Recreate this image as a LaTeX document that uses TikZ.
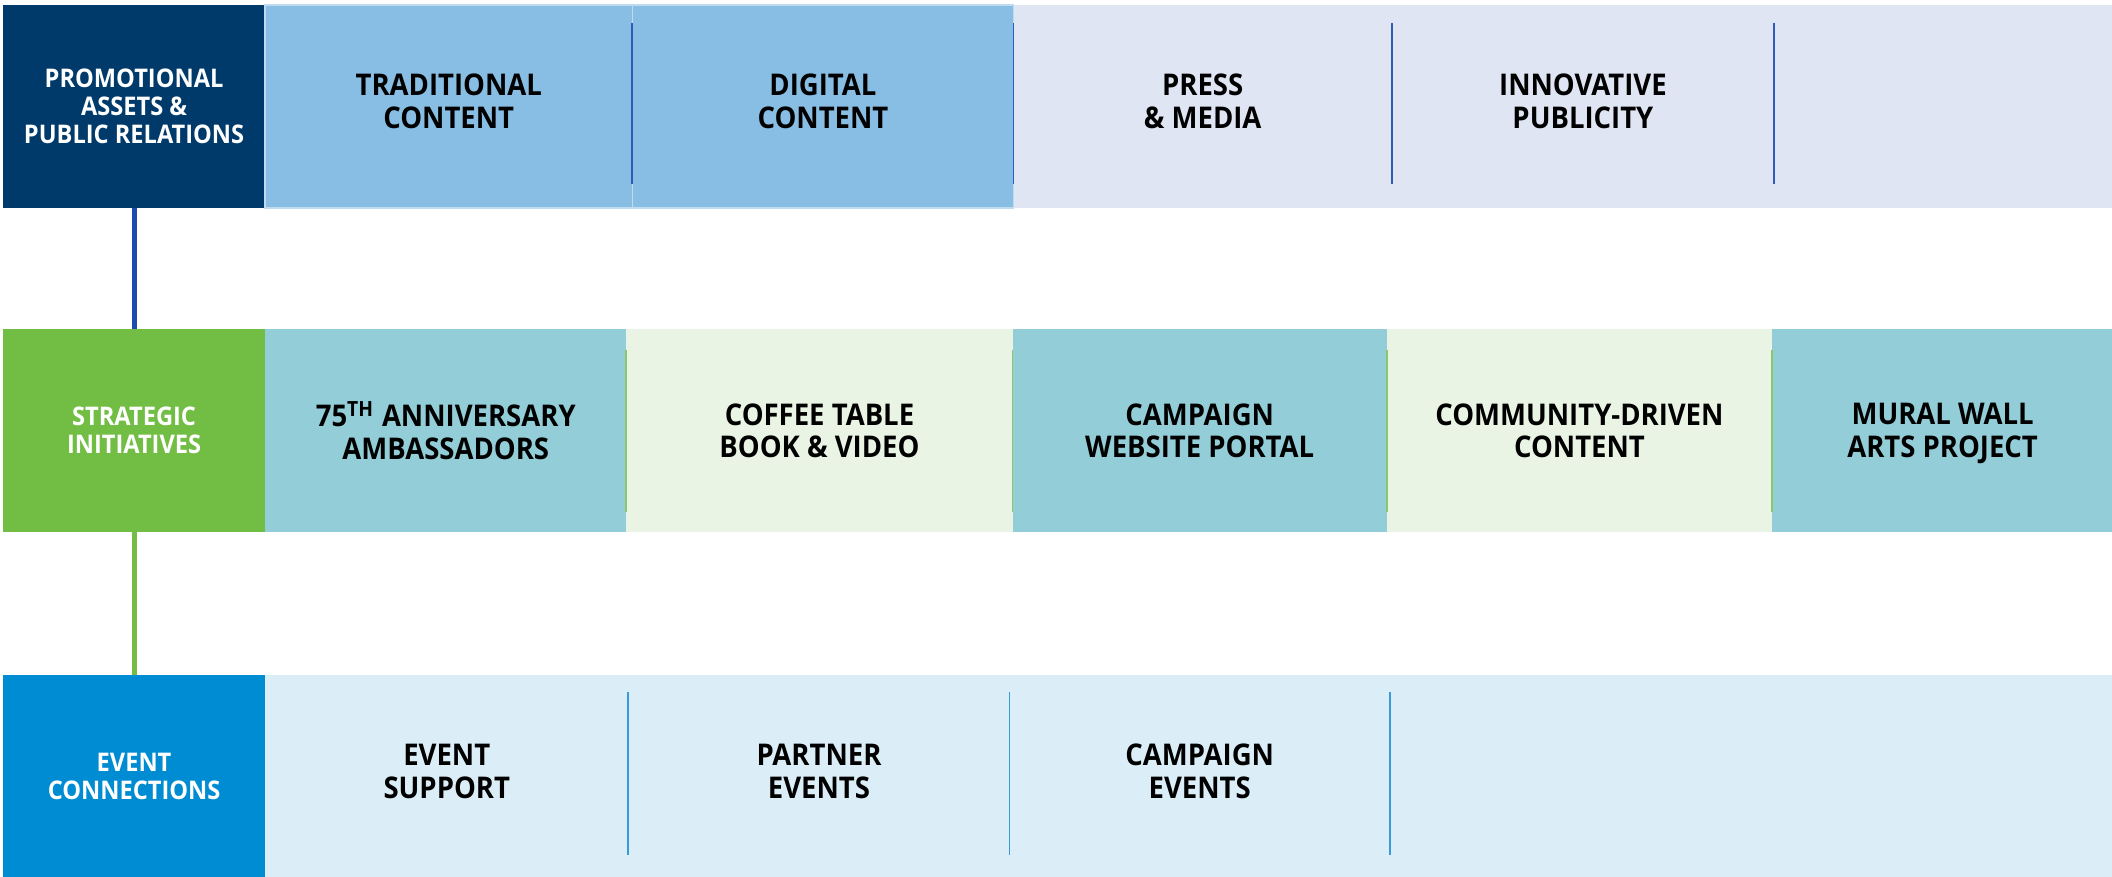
\documentclass[tikz,border=0pt]{standalone}
\usepackage{fontspec}
\setmainfont{Open Sans}[FakeStretch=0.92]
\usetikzlibrary{positioning}
\definecolor{navy}{HTML}{003A6B}
\definecolor{skyblue}{HTML}{88BEE3}
\definecolor{paleblue}{HTML}{DFE5F2}
\definecolor{leaf}{HTML}{72BE44}
\definecolor{teal}{HTML}{93CED8}
\definecolor{palegreen}{HTML}{EAF4E4}
\definecolor{ocean}{HTML}{008CD2}
\definecolor{iceblue}{HTML}{DBEEF7}
\definecolor{linkblue}{HTML}{1E4BB0}
\definecolor{sepblue}{HTML}{2E5CB8}
\definecolor{sepgreen}{HTML}{8CC56A}
\definecolor{sepsky}{HTML}{3A9AD9}

\begin{document}
\begin{tikzpicture}[x=0.01cm,y=-0.01cm,
    head/.style={anchor=north west,inner sep=0pt,outer sep=0pt,minimum width=2.62cm,minimum height=2.03cm,
      align=center,text=white,font=\bfseries\fontsize{7.3}{8}\selectfont},
    cell/.style={inner sep=0pt,outer sep=0pt,minimum height=2.03cm,align=center,
      font=\bfseries\fontsize{8.5}{9.2}\selectfont},
    sep/.style={line width=0.5pt},
    link/.style={line width=1.4pt}]

  \useasboundingbox (0,0) rectangle (2112,877);

  \node [head,fill=navy] (pa) at (3,5) {PROMOTIONAL\\ASSETS \&\\PUBLIC RELATIONS};
  \node [cell,fill=skyblue,draw=skyblue!55!white,minimum width=3.67cm,right=0pt of pa] (tc) {TRADITIONAL\\CONTENT\\[-6.2pt]};
  \node [cell,fill=skyblue,draw=skyblue!55!white,minimum width=3.81cm,right=0pt of tc] (dc) {DIGITAL\\CONTENT\\[-6.2pt]};
  \node [cell,fill=paleblue,minimum width=3.78cm,right=0pt of dc] (pm) {PRESS\\\& MEDIA\\[-6.2pt]};
  \node [cell,fill=paleblue,minimum width=3.82cm,right=0pt of pm] (ip) {INNOVATIVE\\PUBLICITY\\[-6.2pt]};
  \node [cell,fill=paleblue,minimum width=3.39cm,right=0pt of ip] (ep) {};

  \node [head,fill=leaf] (si) at (3,329) {STRATEGIC\\INITIATIVES};
  \node [cell,fill=teal,minimum width=3.61cm,right=0pt of si] (aa) {75\textsuperscript{TH} ANNIVERSARY\\AMBASSADORS};
  \node [cell,fill=palegreen,minimum width=3.86cm,right=0pt of aa] (cb) {COFFEE TABLE\\BOOK \& VIDEO};
  \node [cell,fill=teal,minimum width=3.74cm,right=0pt of cb] (cw) {CAMPAIGN\\WEBSITE PORTAL};
  \node [cell,fill=palegreen,minimum width=3.85cm,right=0pt of cw] (cd) {COMMUNITY-DRIVEN\\CONTENT};
  \node [cell,fill=teal,minimum width=3.41cm,right=0pt of cd] (mw) {MURAL WALL\\ARTS PRO\smash{J}ECT};

  \node [head,fill=ocean] (ec) at (3,675) {EVENT\\CONNECTIONS};
  \node [cell,fill=iceblue,minimum width=3.63cm,right=0pt of ec] (es) {EVENT\\SUPPORT\\[-6.2pt]};
  \node [cell,fill=iceblue,minimum width=3.81cm,right=0pt of es] (pe) {PARTNER\\EVENTS\\[-6.2pt]};
  \node [cell,fill=iceblue,minimum width=3.80cm,right=0pt of pe] (ce) {CAMPAIGN\\EVENTS\\[-6.2pt]};
  \node [cell,fill=iceblue,minimum width=7.23cm,right=0pt of ce] (ee) {};

  \foreach \n in {tc,dc,pm,ip}
    \draw [sep,sepblue] ([yshift=-0.18cm]\n.north east) -- ([yshift=0.24cm]\n.south east);
  \foreach \n in {aa,cb,cw,cd}
    \draw [sep,sepgreen] ([yshift=-0.21cm]\n.north east) -- ([yshift=0.2cm]\n.south east);
  \foreach \n in {es,pe,ce}
    \draw [sep,sepsky] ([yshift=-0.17cm]\n.north east) -- ([yshift=0.23cm]\n.south east);

  \draw [link,linkblue] (pa) -- (si);
  \draw [link,leaf] (si) -- (ec);

\end{tikzpicture}
\end{document}
